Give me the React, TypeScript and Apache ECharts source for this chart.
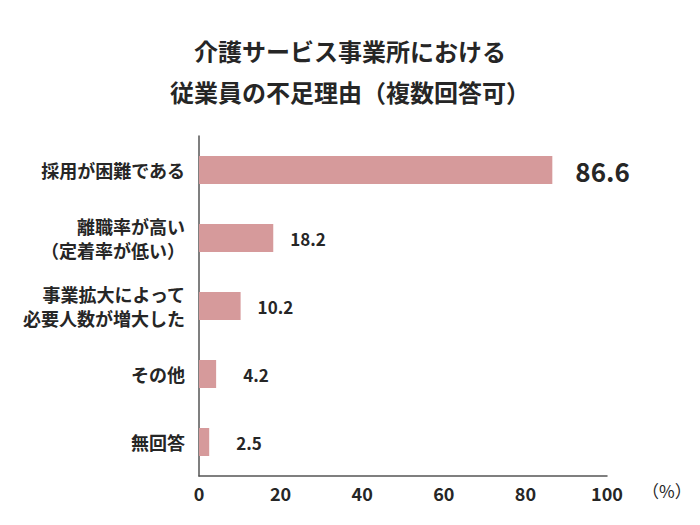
import { useEffect, useRef } from 'react';
import * as echarts from 'echarts';

const categories = [
  '採用が困難である',
  '離職率が高い\n（定着率が低い）',
  '事業拡大によって\n必要人数が増大した',
  'その他',
  '無回答',
];
const values = [86.6, 18.2, 10.2, 4.2, 2.5];
// distance of each value label from the bar end, and its font size
const labelGaps = [23, 17, 17, 27, 27];
const labelSizes = [26, 17, 17, 17, 17];
const xTicks = [0, 20, 40, 60, 80, 100];
const titleLines = ['介護サービス事業所における', '従業員の不足理由（複数回答可）'];

const FONT = '"Noto Sans CJK JP", "Noto Sans", sans-serif';
const TEXT = '#262626';
const BAR = '#d69a9b';

export default function App() {
  const chartRef = useRef<HTMLDivElement>(null);

  useEffect(() => {
    if (!chartRef.current) return;
    document.body.style.margin = '0';
    const chart = echarts.init(chartRef.current, null, { renderer: 'svg' });

    const option = {
      animation: false,
      textStyle: { fontFamily: FONT },
      title: {
        text: titleLines.join('\n'),
        left: 'center',
        top: 25,
        textStyle: {
          fontFamily: FONT,
          fontSize: 24,
          fontWeight: 'bold',
          color: TEXT,
          lineHeight: 41,
        },
      },
      grid: {
        left: 199,
        right: 93,
        top: 136,
        bottom: 49,
        containLabel: false,
      },
      xAxis: {
        type: 'value',
        min: 0,
        max: 100,
        interval: 20,
        axisLine: { show: true, lineStyle: { color: '#555555', width: 1.5 } },
        axisTick: { show: false },
        splitLine: { show: false },
        axisLabel: {
          color: TEXT,
          fontSize: 18,
          fontWeight: 'bold',
          margin: 8,
          formatter: (v: number) => (xTicks.includes(v) ? String(v) : ''),
        },
      },
      yAxis: {
        type: 'category',
        inverse: true,
        data: categories,
        axisLine: { show: true, lineStyle: { color: '#555555', width: 1.5 } },
        axisTick: { show: false },
        axisLabel: {
          color: TEXT,
          fontSize: 18,
          fontWeight: 'bold',
          lineHeight: 24,
          margin: 14,
          align: 'right',
        },
      },
      graphic: [
        {
          type: 'text',
          left: 642,
          top: 482,
          style: {
            text: '（%）',
            font: `17px ${FONT}`,
            fill: TEXT,
          },
        },
      ],
      series: [
        {
          type: 'bar',
          barWidth: 28,
          itemStyle: { color: BAR },
          data: values.map((v, i) => ({
            value: v,
            label: {
              show: true,
              position: 'right',
              distance: labelGaps[i],
              fontSize: labelSizes[i],
              fontWeight: 'bold',
              color: TEXT,
              fontFamily: FONT,
            },
          })),
        },
      ],
    };

    chart.setOption(option);
    return () => {
      chart.dispose();
    };
  }, []);

  return <div ref={chartRef} style={{ width: 700, height: 525 }} />;
}
